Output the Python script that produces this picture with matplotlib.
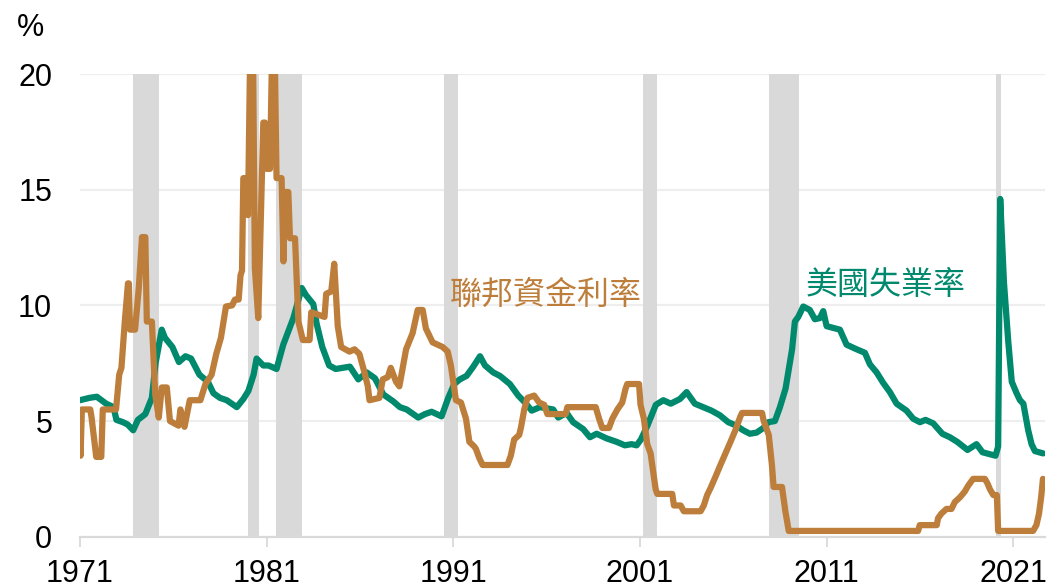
import matplotlib
matplotlib.use("Agg")
import matplotlib.pyplot as plt

plt.rcParams['font.family'] = ['Liberation Sans', 'Noto Sans CJK TC', 'DejaVu Sans']

# Federal funds rate (decimal year, %)
ff_years = [1971.00, 1971.03, 1971.10, 1971.55, 1971.62, 1971.87, 1972.14, 1972.22, 1972.93,
            1973.10, 1973.22, 1973.40, 1973.57, 1973.62, 1973.68, 1973.95, 1974.15, 1974.32,
            1974.50, 1974.58, 1974.85, 1975.03, 1975.22, 1975.38, 1975.65, 1975.82, 1976.28,
            1976.38, 1976.60, 1976.88, 1977.45, 1977.72, 1978.05, 1978.30, 1978.55, 1978.82,
            1979.15, 1979.30, 1979.50, 1979.60, 1979.68, 1979.75, 1979.93, 1980.00, 1980.10,
            1980.28, 1980.37, 1980.55, 1980.82, 1980.91, 1981.00, 1981.18, 1981.27, 1981.45,
            1981.53, 1981.80, 1981.90, 1981.98, 1982.16, 1982.25, 1982.52, 1982.70, 1982.94,
            1983.30, 1983.39, 1984.10, 1984.19, 1984.46, 1984.62, 1984.81, 1984.99, 1985.44,
            1985.71, 1985.97, 1986.24, 1986.42, 1986.51, 1987.04, 1987.22, 1987.49, 1987.65,
            1987.93, 1988.11, 1988.47, 1988.82, 1989.09, 1989.36, 1989.53, 1989.89, 1990.43,
            1990.70, 1990.87, 1991.14, 1991.41, 1991.68, 1991.86, 1992.12, 1992.21, 1992.39,
            1992.57, 1993.90, 1994.08, 1994.26, 1994.53, 1994.62, 1994.80, 1994.97, 1995.33,
            1995.60, 1995.87, 1996.04, 1997.02, 1997.11, 1998.63, 1998.81, 1998.98, 1999.34,
            1999.52, 1999.79, 2000.05, 2000.23, 2000.32, 2000.95, 2001.03, 2001.21, 2001.39,
            2001.57, 2001.84, 2001.93, 2002.73, 2002.82, 2003.18, 2003.35, 2004.25, 2004.42,
            2004.60, 2004.78, 2005.05, 2005.31, 2005.58, 2005.85, 2006.11, 2006.38, 2006.47,
            2007.54, 2007.63, 2007.90, 2008.07, 2008.16, 2008.61, 2008.79, 2008.97, 2015.90,
            2015.99, 2016.90, 2016.97, 2017.15, 2017.42, 2017.69, 2017.87, 2018.14, 2018.40,
            2018.58, 2018.85, 2019.48, 2019.62, 2019.75, 2019.93, 2020.12, 2020.19, 2022.06,
            2022.24, 2022.38, 2022.50, 2022.59]
ff_vals = [4.1, 3.5, 5.5, 5.5, 5.15, 3.45, 3.45, 5.5, 5.5,
           7.0, 7.3, 9.3, 10.95, 10.95, 8.95, 8.95, 10.75, 12.95,
           12.95, 9.3, 9.3, 6.15, 5.15, 6.45, 6.45, 5.0, 4.8,
           5.5, 4.75, 5.9, 5.9, 6.6, 7.0, 7.9, 8.6, 9.95,
           10.0, 10.25, 10.25, 11.3, 11.5, 15.5, 15.5, 13.9, 20.0,
           20.0, 11.6, 9.45, 17.9, 17.9, 15.9, 15.9, 20.0, 20.0,
           15.5, 15.5, 11.9, 14.9, 14.9, 12.9, 12.9, 9.3, 8.5,
           8.5, 9.7, 9.5, 10.5, 10.6, 11.8, 9.1, 8.2, 8.0,
           8.1, 7.9, 7.1, 6.5, 5.9, 6.0, 6.8, 6.9, 7.3,
           6.7, 6.5, 8.1, 8.8, 9.8, 9.8, 9.0, 8.4, 8.2,
           8.0, 7.4, 5.9, 5.8, 5.1, 4.1, 3.9, 3.8, 3.4,
           3.1, 3.1, 3.5, 4.2, 4.4, 4.7, 5.5, 6.0, 6.1,
           5.8, 5.7, 5.3, 5.3, 5.6, 5.6, 5.1, 4.7, 4.7,
           5.1, 5.5, 5.8, 6.4, 6.6, 6.6, 5.7, 5.1, 4.0,
           3.6, 2.05, 1.85, 1.85, 1.35, 1.35, 1.1, 1.1, 1.35,
           1.8, 2.1, 2.6, 3.1, 3.6, 4.1, 4.6, 5.2, 5.35,
           5.35, 5.0, 4.4, 3.1, 2.15, 2.15, 1.1, 0.25, 0.25,
           0.5, 0.5, 0.8, 1.0, 1.2, 1.2, 1.5, 1.7, 1.95,
           2.2, 2.5, 2.5, 2.3, 2.05, 1.8, 1.8, 0.25, 0.25,
           0.5, 1.0, 1.75, 2.5]

# US unemployment rate (decimal year, %)
ur_years = [1971.00, 1971.50, 1971.90, 1972.40, 1972.80, 1972.95, 1973.30, 1973.55, 1973.85,
            1974.10, 1974.50, 1974.85, 1975.05, 1975.30, 1975.38, 1975.55, 1975.95, 1976.30,
            1976.65, 1976.95, 1977.40, 1977.85, 1978.15, 1978.50, 1978.86, 1979.40, 1979.75,
            1980.02, 1980.30, 1980.46, 1980.82, 1981.10, 1981.53, 1981.89, 1982.43, 1982.88,
            1983.10, 1983.50, 1983.68, 1983.98, 1984.35, 1984.70, 1985.46, 1985.91, 1986.36,
            1986.80, 1987.25, 1987.78, 1988.14, 1988.50, 1989.12, 1989.48, 1989.84, 1990.37,
            1990.73, 1991.05, 1991.35, 1991.71, 1992.07, 1992.43, 1992.70, 1993.14, 1993.50,
            1994.03, 1994.48, 1994.84, 1995.20, 1995.64, 1996.35, 1996.62, 1997.07, 1997.42,
            1997.96, 1998.32, 1998.68, 1999.21, 1999.75, 2000.19, 2000.55, 2000.82, 2001.05,
            2001.40, 2001.85, 2002.25, 2002.65, 2003.14, 2003.50, 2003.94, 2004.39, 2004.83,
            2005.28, 2005.73, 2006.17, 2006.53, 2006.89, 2007.25, 2007.61, 2007.88, 2008.23,
            2008.50, 2008.80, 2009.05, 2009.15, 2009.30, 2009.48, 2009.75, 2010.10, 2010.37,
            2010.64, 2010.82, 2011.00, 2011.71, 2012.07, 2012.61, 2013.05, 2013.32, 2013.68,
            2014.03, 2014.39, 2014.75, 2015.28, 2015.64, 2016.00, 2016.30, 2016.71, 2017.20,
            2017.60, 2018.00, 2018.55, 2019.03, 2019.35, 2020.05, 2020.19, 2020.30, 2020.50,
            2020.73, 2020.92, 2021.18, 2021.36, 2021.54, 2021.80, 2021.98, 2022.16, 2022.60]
ur_vals = [5.9, 6.0, 6.05, 5.75, 5.6, 5.05, 4.95, 4.85, 4.6,
           5.05, 5.3, 6.0, 7.5, 8.6, 8.95, 8.6, 8.2, 7.55,
           7.8, 7.7, 7.0, 6.7, 6.2, 6.0, 5.9, 5.6, 5.95,
           6.3, 7.0, 7.7, 7.4, 7.4, 7.25, 8.3, 9.45, 10.75,
           10.45, 10.05, 9.2, 8.2, 7.4, 7.25, 7.35, 6.8, 7.1,
           6.85, 6.15, 5.85, 5.6, 5.5, 5.15, 5.3, 5.4, 5.2,
           6.0, 6.6, 6.8, 6.95, 7.35, 7.8, 7.4, 7.1, 6.95,
           6.6, 6.1, 5.8, 5.45, 5.6, 5.5, 5.15, 5.35, 4.95,
           4.65, 4.3, 4.45, 4.25, 4.1, 3.95, 4.0, 3.95, 4.2,
           4.8, 5.7, 5.9, 5.75, 5.95, 6.25, 5.75, 5.6, 5.45,
           5.25, 4.95, 4.8, 4.6, 4.45, 4.5, 4.7, 4.95, 5.0,
           5.6, 6.4, 7.6, 8.1, 9.3, 9.5, 9.95, 9.8, 9.4,
           9.45, 9.75, 9.1, 8.95, 8.3, 8.1, 7.95, 7.45, 7.1,
           6.65, 6.25, 5.75, 5.45, 5.1, 4.95, 5.05, 4.9, 4.45,
           4.3, 4.1, 3.75, 4.0, 3.65, 3.5, 3.9, 14.6, 11.0,
           8.45, 6.7, 6.2, 5.9, 5.75, 4.6, 4.0, 3.7, 3.6]

# Recessions (start, end)
rec_start = [1973.83, 1980.00, 1981.50, 1990.50, 2001.17, 2007.92, 2020.08]
rec_end = [1975.25, 1980.58, 1982.92, 1991.25, 2001.92, 2009.50, 2020.35]

xtick_years = [1971, 1981, 1991, 2001, 2011, 2021]
ytick_vals = [0, 5, 10, 15, 20]

label_ff = "聯邦資金利率"
label_ur = "美國失業率"

ORANGE = "#BE7E3B"
GREEN = "#00896D"

fig = plt.figure(figsize=(10.5, 5.88), dpi=100)
ax = fig.add_axes([80/1050, 1 - 536.7/588, (1045-80)/1050, (536.7-74)/588])

for s, e in zip(rec_start, rec_end):
    ax.axvspan(s, e, color="#d9d9d9", lw=0, zorder=1)

for v in ytick_vals[1:]:
    ax.axhline(v, color="#eeeeee", lw=1.6, zorder=0.5)

ax.plot(ur_years, ur_vals, color=GREEN, lw=4.5, zorder=3, solid_joinstyle='round', solid_capstyle='round')
ax.plot(ff_years, ff_vals, color=ORANGE, lw=4.5, zorder=4, solid_joinstyle='round', solid_capstyle='round')

ax.set_xlim(1971, 2022.7)
ax.set_ylim(0, 20)
ax.set_xticks(xtick_years)
ax.set_xticklabels([str(y) for y in xtick_years])
ax.set_yticks(ytick_vals)
ax.set_yticklabels([str(v) for v in ytick_vals])

for sp in ["top", "right", "left"]:
    ax.spines[sp].set_visible(False)
ax.spines["bottom"].set_color("#d9d9d9")
ax.spines["bottom"].set_linewidth(1.6)
ax.spines["bottom"].set_zorder(2)

ax.tick_params(axis="x", length=7, width=1.3, color="#d9d9d9", pad=9, labelsize=22, labelcolor="black")
ax.tick_params(axis="y", length=0, pad=20, labelsize=22, labelcolor="black")

ax.text(1995.96, 10.47, label_ff, color=ORANGE, fontsize=23, ha="center", va="center",
        family=["Noto Sans CJK TC"], zorder=5)
ax.text(2014.17, 10.9, label_ur, color=GREEN, fontsize=23, ha="center", va="center",
        family=["Noto Sans CJK TC"], zorder=5)

fig.text(31/1050, 1 - 28/588, "%", fontsize=22, ha="center", va="center")

fig.savefig("out.png", dpi=100)
